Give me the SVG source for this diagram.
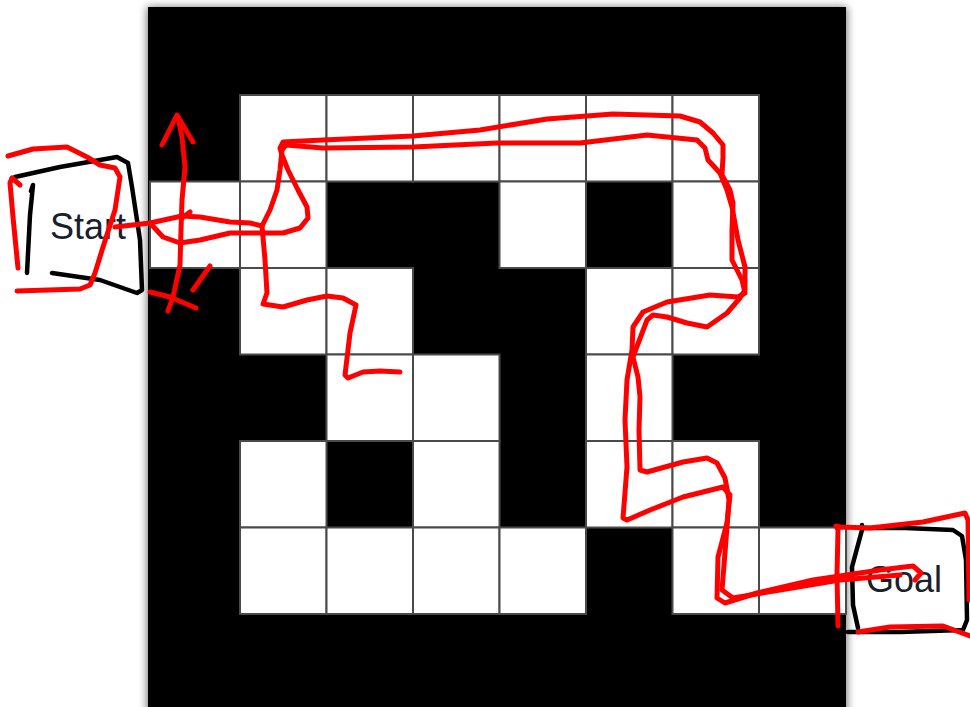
<svg xmlns="http://www.w3.org/2000/svg" width="970" height="707" viewBox="0 0 970 707">
<style>
.cell{fill:#fff;stroke:#4a4a4a;stroke-width:2}
.red{fill:none;stroke:#f00;stroke-width:5;stroke-linecap:round;stroke-linejoin:round}
.blk{fill:none;stroke:#000;stroke-width:4.5;stroke-linecap:round;stroke-linejoin:round}
.lbl{font-family:"Liberation Sans",Arial,sans-serif;font-size:36px;fill:#18202e}
</style>
<defs>
<filter id="sh" x="-10%" y="-10%" width="120%" height="120%"><feGaussianBlur stdDeviation="4"/></filter>
</defs>
<rect width="970" height="707" fill="#fff"/>
<g id="maze">
<rect x="147" y="7" width="700" height="720" fill="#000" opacity="0.55" filter="url(#sh)"/>
<rect x="148" y="7" width="698" height="720" fill="#000"/>
<rect class="cell" x="240" y="95" width="86.5" height="86.5"/>
<rect class="cell" x="326.5" y="95" width="86.5" height="86.5"/>
<rect class="cell" x="413" y="95" width="86.5" height="86.5"/>
<rect class="cell" x="499.5" y="95" width="86.5" height="86.5"/>
<rect class="cell" x="586" y="95" width="86.5" height="86.5"/>
<rect class="cell" x="672.5" y="95" width="86.5" height="86.5"/>
<rect class="cell" x="150" y="181.5" width="90" height="86.5"/>
<rect class="cell" x="240" y="181.5" width="86.5" height="86.5"/>
<rect class="cell" x="499.5" y="181.5" width="86.5" height="86.5"/>
<rect class="cell" x="672.5" y="181.5" width="86.5" height="86.5"/>
<rect class="cell" x="240" y="268" width="86.5" height="86.5"/>
<rect class="cell" x="326.5" y="268" width="86.5" height="86.5"/>
<rect class="cell" x="586" y="268" width="86.5" height="86.5"/>
<rect class="cell" x="672.5" y="268" width="86.5" height="86.5"/>
<rect class="cell" x="326.5" y="354.5" width="86.5" height="86.5"/>
<rect class="cell" x="413" y="354.5" width="86.5" height="86.5"/>
<rect class="cell" x="586" y="354.5" width="86.5" height="86.5"/>
<rect class="cell" x="240" y="441" width="86.5" height="86.5"/>
<rect class="cell" x="413" y="441" width="86.5" height="86.5"/>
<rect class="cell" x="586" y="441" width="86.5" height="86.5"/>
<rect class="cell" x="672.5" y="441" width="86.5" height="86.5"/>
<rect class="cell" x="240" y="527.5" width="86.5" height="86.5"/>
<rect class="cell" x="326.5" y="527.5" width="86.5" height="86.5"/>
<rect class="cell" x="413" y="527.5" width="86.5" height="86.5"/>
<rect class="cell" x="499.5" y="527.5" width="86.5" height="86.5"/>
<rect class="cell" x="672.5" y="527.5" width="86.5" height="86.5"/>
<rect class="cell" x="759" y="527.5" width="87" height="86.5"/>
</g>
<g id="start">
<text class="lbl" x="50" y="239">Start</text>
<polyline class="blk" points="15,177 60,167 117,157 128,163 132,187 140,240 142,290 137,293 100,280 52,273"/>
<polyline class="blk" points="31,191 33,185 30,215 27,273"/>
<polyline class="red" points="8,156 33,149 67,147 87,157 100,165 115,168 120,177 115,210 103,247 95,273 90,285 80,289 17,291"/>
<polyline class="red" points="20,185 12,178 10,183 13,217 18,268"/>
</g>
<g id="goal">
<text class="lbl" x="866" y="592">Goal</text>
<polyline class="blk" points="862,525 862,528 905,528 953,530 962,536 966,560 967,620 963,630 900,632 848,632"/>
<polyline class="blk" points="862,530 852,567 853,605 858,628"/>
<polyline class="red" points="838,626 837,575 838,530 836,526 840,527 870,528 923,522 965,513 968,520 969,600"/>
<polyline class="red" points="858,632 890,627 943,626 970,636"/>
</g>
<g id="connectors">
<polyline class="red" points="115,227 150,223 182,216 200,217 230,222 250,223 262,226 270,210 277,190 280,170 282,150 286,145 323,148 413,147 497,143 580,143 647,135 697,140 705,148 708,160 720,173 727,190 732,207 738,240 745,267 745,290 740,298 727,313 707,327 687,323 667,317 653,315 647,320 633,357 638,377 640,397 639,430 640,470 647,472 683,462 707,458 717,463 725,478 729,500 726,540 722,590 733,598 780,590 840,580 900,575"/>
<polyline class="red" points="150,223 163,237 180,243 200,240 230,233 263,233 283,233 300,228 308,218 307,207 298,190 288,170 282,155 280,148 283,142 323,140 413,136 480,130 547,119 613,114 680,116 700,122 713,133 723,145 723,157 722,175 730,190 733,203 732,230 732,260 742,280 745,293 738,297 710,295 667,302 643,312 633,327 632,350 627,380 625,420 627,467 623,518 627,520 650,510 683,497 723,487 730,495 727,523 718,557 717,598 725,603 757,593 813,580 880,570 913,566 921,573 915,580"/>
<polyline class="red" points="262,226 265,260 267,293 263,304 283,307 307,300 327,296 343,298 356,305 350,333 345,375 348,378 363,372 380,371 400,372"/>
<polyline class="red" points="168,311 173,297 180,265 181,230 182,200 185,167 182,137 178,117"/>
<polyline class="red" points="162,145 177,115 193,142"/>
<polyline class="red" points="150,292 170,297 196,308"/>
<polyline class="red" points="210,266 193,290"/>
<polyline class="red" points="182,218 190,212"/>
</g>
</svg>
